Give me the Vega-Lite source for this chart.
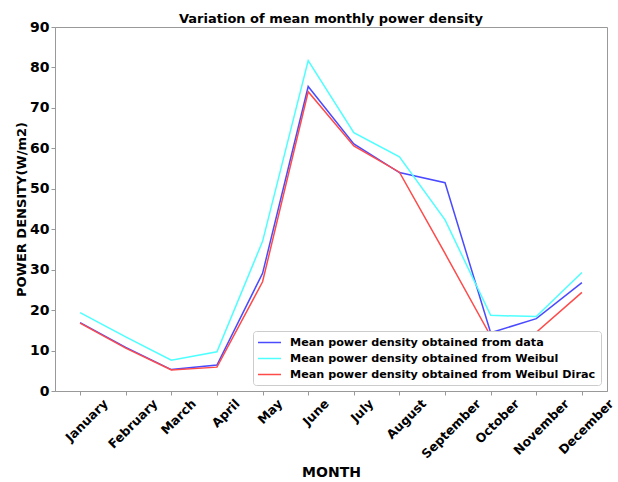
{
  "$schema": "https://vega.github.io/schema/vega-lite/v6.json",
  "width": 552,
  "height": 364,
  "autosize": {"type": "none"},
  "padding": {"left": 55, "top": 27, "right": 11, "bottom": 91},
  "background": "white",
  "title": {"text": "Variation of mean monthly power density", "fontSize": 13, "fontWeight": "bold", "font": "DejaVu Sans", "offset": 4, "dy": 10, "color": "black", "anchor": "middle", "frame": "group"},
  "config": {"view": {"stroke": "#999999", "strokeWidth": 1}, "font": "DejaVu Sans"},
  "data": {"values": [
    {"month": "January", "series": "Mean power density obtained from data", "value": 16.9},
    {"month": "February", "series": "Mean power density obtained from data", "value": 10.8},
    {"month": "March", "series": "Mean power density obtained from data", "value": 5.3},
    {"month": "April", "series": "Mean power density obtained from data", "value": 6.4},
    {"month": "May", "series": "Mean power density obtained from data", "value": 29.1},
    {"month": "June", "series": "Mean power density obtained from data", "value": 75.3},
    {"month": "July", "series": "Mean power density obtained from data", "value": 61.1},
    {"month": "August", "series": "Mean power density obtained from data", "value": 54.0},
    {"month": "September", "series": "Mean power density obtained from data", "value": 51.5},
    {"month": "October", "series": "Mean power density obtained from data", "value": 14.4},
    {"month": "November", "series": "Mean power density obtained from data", "value": 17.9},
    {"month": "December", "series": "Mean power density obtained from data", "value": 26.8},
    {"month": "January", "series": "Mean power density obtained from Weibul", "value": 19.4},
    {"month": "February", "series": "Mean power density obtained from Weibul", "value": 13.4},
    {"month": "March", "series": "Mean power density obtained from Weibul", "value": 7.6},
    {"month": "April", "series": "Mean power density obtained from Weibul", "value": 9.7},
    {"month": "May", "series": "Mean power density obtained from Weibul", "value": 37.0},
    {"month": "June", "series": "Mean power density obtained from Weibul", "value": 81.7},
    {"month": "July", "series": "Mean power density obtained from Weibul", "value": 63.9},
    {"month": "August", "series": "Mean power density obtained from Weibul", "value": 57.9},
    {"month": "September", "series": "Mean power density obtained from Weibul", "value": 42.3},
    {"month": "October", "series": "Mean power density obtained from Weibul", "value": 18.7},
    {"month": "November", "series": "Mean power density obtained from Weibul", "value": 18.4},
    {"month": "December", "series": "Mean power density obtained from Weibul", "value": 29.3},
    {"month": "January", "series": "Mean power density obtained from Weibul Dirac", "value": 16.8},
    {"month": "February", "series": "Mean power density obtained from Weibul Dirac", "value": 10.6},
    {"month": "March", "series": "Mean power density obtained from Weibul Dirac", "value": 5.2},
    {"month": "April", "series": "Mean power density obtained from Weibul Dirac", "value": 5.9},
    {"month": "May", "series": "Mean power density obtained from Weibul Dirac", "value": 27.0},
    {"month": "June", "series": "Mean power density obtained from Weibul Dirac", "value": 74.0},
    {"month": "July", "series": "Mean power density obtained from Weibul Dirac", "value": 60.6},
    {"month": "August", "series": "Mean power density obtained from Weibul Dirac", "value": 54.1},
    {"month": "September", "series": "Mean power density obtained from Weibul Dirac", "value": 34.0},
    {"month": "October", "series": "Mean power density obtained from Weibul Dirac", "value": 13.6},
    {"month": "November", "series": "Mean power density obtained from Weibul Dirac", "value": 14.5},
    {"month": "December", "series": "Mean power density obtained from Weibul Dirac", "value": 24.4}
  ]},
  "mark": {"type": "line", "strokeWidth": 1.5},
  "encoding": {
    "x": {
      "field": "month", "type": "ordinal",
      "sort": ["January", "February", "March", "April", "May", "June", "July", "August", "September", "October", "November", "December"],
      "scale": {"type": "point", "padding": 0.55},
      "axis": {
        "title": "MONTH", "titleFontSize": 14, "titleFontWeight": "bold", "titleColor": "black", "titlePadding": 5,
        "labelAngle": -45, "labelAlign": "right", "labelBaseline": "top",
        "labelFontSize": 12.5, "labelFontWeight": "bold", "labelColor": "black", "labelPadding": 2,
        "labelOverlap": false, "labelBound": false,
        "labelOffset": {
          "condition": [
            {"test": "datum.value === 'January'", "value": 21},
            {"test": "datum.value === 'February'", "value": 25},
            {"test": "datum.value === 'March'", "value": 18},
            {"test": "datum.value === 'April'", "value": 16},
            {"test": "datum.value === 'May'", "value": 13},
            {"test": "datum.value === 'June'", "value": 14},
            {"test": "datum.value === 'July'", "value": 13},
            {"test": "datum.value === 'August'", "value": 20},
            {"test": "datum.value === 'September'", "value": 29},
            {"test": "datum.value === 'October'", "value": 22},
            {"test": "datum.value === 'November'", "value": 26},
            {"test": "datum.value === 'December'", "value": 25}
          ],
          "value": 20
        },
        "tickSize": 4, "tickColor": "#999999", "domainColor": "#999999", "grid": false
      }
    },
    "y": {
      "field": "value", "type": "quantitative",
      "scale": {"domain": [0, 90], "nice": false},
      "axis": {
        "title": "POWER DENSITY(W/m2)", "titleFontSize": 13, "titleFontWeight": "bold", "titleColor": "black", "titlePadding": 1,
        "values": [0, 10, 20, 30, 40, 50, 60, 70, 80, 90],
        "labelFontSize": 14, "labelFontWeight": "bold", "labelColor": "black", "labelPadding": 2,
        "tickSize": 4, "tickColor": "#999999", "domainColor": "#999999", "grid": false
      }
    },
    "color": {
      "field": "series", "type": "nominal",
      "scale": {
        "domain": ["Mean power density obtained from data", "Mean power density obtained from Weibul", "Mean power density obtained from Weibul Dirac"],
        "range": ["#4a4aff", "#4dffff", "#ff4a4a"]
      },
      "legend": {
        "title": null, "orient": "bottom-right", "offset": 6,
        "fillColor": "white", "strokeColor": "#cccccc", "cornerRadius": 3, "padding": 5,
        "symbolType": "M-2,0L2,0", "symbolSize": 132, "symbolStrokeWidth": 1.5, "symbolOffset": 5,
        "labelFontSize": 11.2, "labelFontWeight": "bold", "labelColor": "black", "labelOffset": 14,
        "rowPadding": 4, "labelLimit": 400
      }
    }
  }
}
